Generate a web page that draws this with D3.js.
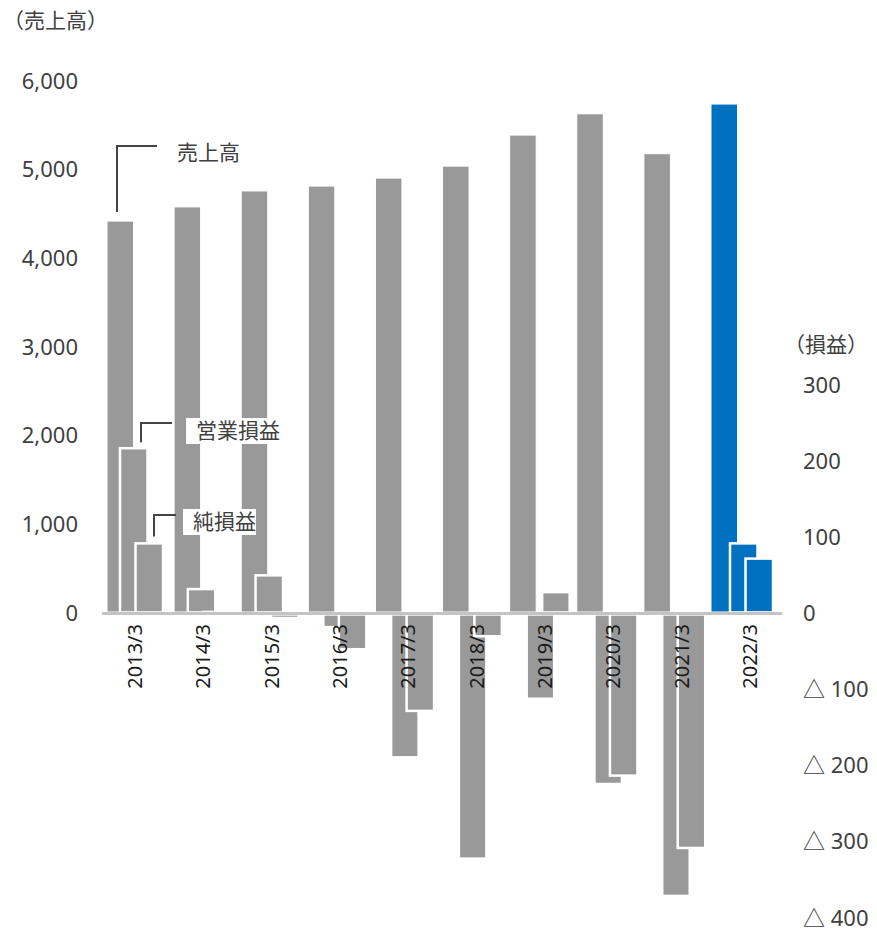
<!DOCTYPE html>
<html lang="ja">
<head>
<meta charset="utf-8">
<title>売上高・損益の推移</title>
<script src="https://cdn.jsdelivr.net/npm/d3@7"></script>
<style>
  body { margin: 0; background: #fff; }
  text { font-family: "Noto Sans", "Noto Sans CJK JP", sans-serif; }
</style>
</head>
<body>
<script>
// data
var years = ["2013/3", "2014/3", "2015/3", "2016/3", "2017/3", "2018/3", "2019/3", "2020/3", "2021/3", "2022/3"];
var sales = [4420, 4580, 4760, 4815, 4905, 5040, 5390, 5630, 5180, 5740];        // 売上高 (left axis)
var opIncome = [217, 32, 50, -18, -189, -322, -112, -224, -371, 92];            // 営業損益 (right axis)
var netIncome = [92, 2, -6, -47, -128, -30, 28, -213, -308, 72];                // 純損益 (right axis)
var leftTicks = [0, 1000, 2000, 3000, 4000, 5000, 6000];
var rightTicks = [300, 200, 100, 0, -100, -200, -300, -400];

var w = 877, h = 931;
var gray = "#999999", blue = "#0070c0";
var bw = 26.5;

var svg = d3.select("body").append("svg")
    .attr("width", w)
    .attr("height", h);

// scales
var yL = d3.scaleLinear().domain([0, 6000]).range([613, 81]);
var yR = d3.scaleLinear().domain([-400, 300]).range([918, 385]);
var xS = d3.scalePoint().domain(years).range([107, 711]);   // sales bars
var xP = d3.scalePoint().domain(years).range([121, 731]);   // profit bars
var xL = d3.scalePoint().domain(years).range([135, 750]);   // category labels

function fillOf(d) { return d === years[years.length - 1] ? blue : gray; }

// axis labels
var leftAxis = d3.axisLeft(yL).tickValues(leftTicks).tickSize(0).tickPadding(0)
    .tickFormat(d3.format(","));
svg.append("g")
    .attr("transform", "translate(78,0)")
    .call(leftAxis)
    .call(function(g) { g.select(".domain").remove(); })
    .selectAll("text")
    .attr("font-size", 22)
    .attr("fill", "#404040")
    .style("font-family", null);

var rightAxis = d3.axisRight(yR).tickValues(rightTicks).tickSize(0).tickPadding(0)
    .tickFormat(function(d) { return d < 0 ? "△ " + (-d) : d; });
svg.append("g")
    .attr("transform", "translate(803,0)")
    .call(rightAxis)
    .call(function(g) { g.select(".domain").remove(); })
    .selectAll("text")
    .attr("font-size", 22)
    .attr("fill", "#404040")
    .style("font-family", null);

svg.append("text")
    .attr("x", 3).attr("y", 28)
    .attr("font-size", 21).attr("fill", "#404040")
    .text("（売上高）");
svg.append("text")
    .attr("x", 784).attr("y", 352)
    .attr("font-size", 21).attr("fill", "#404040")
    .text("（損益）");

// sales bars
svg.append("g").selectAll("rect")
    .data(years)
    .enter().append("rect")
    .attr("x", function(d) { return xS(d); })
    .attr("y", function(d, i) { return yL(sales[i]); })
    .attr("width", bw)
    .attr("height", function(d, i) { return yL(0) - yL(sales[i]) - 1; })
    .attr("fill", fillOf)
    .attr("stroke", "#fff").attr("stroke-width", 1);

// profit bars, op first then net on top
function profitBars(vals, dx) {
    svg.append("g").selectAll("rect")
        .data(years)
        .enter().append("rect")
        .attr("x", function(d) { return xP(d) - 1 + dx; })
        .attr("y", function(d, i) { return vals[i] >= 0 ? yR(vals[i]) : yR(0) + 1; })
        .attr("width", bw + 1)
        .attr("height", function(d, i) {
            return vals[i] >= 0 ? Math.max(0, yR(0) - yR(vals[i]) - 1) : Math.max(0, yR(vals[i]) - yR(0) - 1);
        })
        .attr("fill", fillOf)
        .attr("stroke", "#fff").attr("stroke-width", 2.5);
}
profitBars(opIncome, 0);
profitBars(netIncome, 15.5);

// baseline
svg.append("line")
    .attr("x1", 102).attr("x2", 782)
    .attr("y1", yL(0) + 0.5).attr("y2", yL(0) + 0.5)
    .attr("stroke", "#c4c4c4").attr("stroke-width", 3);

// category labels
svg.append("g").selectAll("text")
    .data(years)
    .enter().append("text")
    .attr("transform", function(d) { return "translate(" + xL(d) + ",624) rotate(-90)"; })
    .attr("text-anchor", "end")
    .attr("dy", "0.35em")
    .attr("font-size", 20)
    .attr("fill", "#1a1a1a")
    .text(function(d) { return d; });

// annotations
var ann = svg.append("g");
function leader(x, y1, y2, x2) {
    ann.append("path")
        .attr("d", "M" + x + "," + y1 + "V" + y2 + "H" + x2)
        .attr("fill", "none")
        .attr("stroke", "#444").attr("stroke-width", 2);
}
function label(txt, x, y, boxW) {
    if (boxW) {
        ann.append("rect")
            .attr("x", x - 10).attr("y", y - 13)
            .attr("width", boxW).attr("height", 26)
            .attr("fill", "#fff");
    }
    ann.append("text")
        .attr("x", x).attr("y", y)
        .attr("dy", "0.35em")
        .attr("font-size", 21).attr("fill", "#404040")
        .text(txt);
}

var x13s = xS(years[0]), x13p = xP(years[0]);
leader(x13s + 10, yL(sales[0]) - 9, 146, 157);
label("売上高", 177, 153);
leader(x13p + 20, yR(opIncome[0]) - 6, 423, 172);
label("営業損益", 196, 431, 96);
leader(x13p + 33, yR(netIncome[0]) - 7, 515, 176);
label("純損益", 193, 522, 73);
</script>
</body>
</html>
